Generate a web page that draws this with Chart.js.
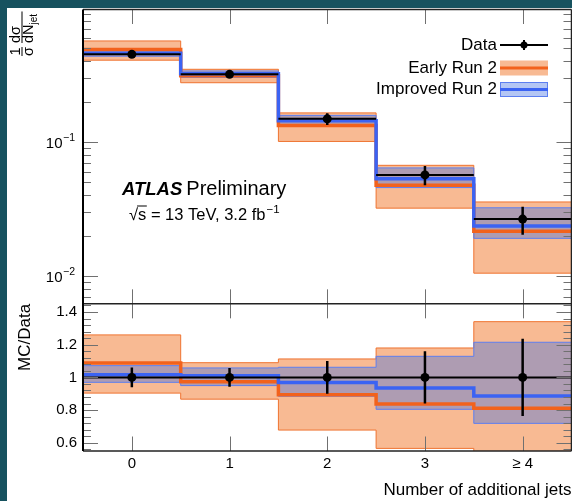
<!DOCTYPE html>
<html>
<head>
<meta charset="utf-8">
<script src="https://cdn.jsdelivr.net/npm/chart.js@4.4.0/dist/chart.umd.min.js"></script>
<style>
  html, body { margin: 0; padding: 0; background: #fff; }
</style>
</head>
<body>
<canvas id="jetChart" width="572" height="501"></canvas>
<script>
// bins of the jet multiplicity
const bins = [0, 1, 2, 3, 4];
const binEdges = [-0.5, 0.5, 1.5, 2.5, 3.5, 4.5];
const xTicks = [0, 1, 2, 3, 4];
const xLabels = ['0', '1', '2', '3', '\u2265 4'];

// upper panel: 1/sigma dsigma/dN
const mainTicks = [0.01, 0.1];
const mainTickExp = ['\u22122', '\u22121'];
const dataVal = [0.451, 0.320, 0.149, 0.0568, 0.0266];
const dataErr = [0.027, 0.018, 0.015, 0.0093, 0.0063];
const earlyVal = [0.491, 0.312, 0.133, 0.0476, 0.0216];
const earlyUp = [0.568, 0.349, 0.165, 0.0670, 0.0357];
const earlyDown = [0.408, 0.277, 0.101, 0.0321, 0.0105];
const improvedVal = [0.459, 0.323, 0.144, 0.0531, 0.0236];
const improvedUp = [0.483, 0.339, 0.158, 0.0641, 0.0323];
const improvedDown = [0.437, 0.304, 0.1315, 0.0457, 0.0191];

// lower panel: MC/Data
const ratioTicks = [0.6, 0.8, 1, 1.2, 1.4];
const ratioTickLabels = ['0.6', '0.8', '1', '1.2', '1.4'];
const ratioData = [1, 1, 1, 1, 1];
const ratioDataErr = [0.06, 0.057, 0.10, 0.16, 0.236];
const ratioEarly = [1.088, 0.974, 0.894, 0.838, 0.812];
const ratioEarlyUp = [1.26, 1.09, 1.113, 1.18, 1.341];
const ratioEarlyDown = [0.904, 0.867, 0.678, 0.566, 0.394];
const ratioImproved = [1.017, 1.01, 0.969, 0.935, 0.887];
const ratioImprovedUp = [1.072, 1.058, 1.062, 1.129, 1.215];
const ratioImprovedDown = [0.97, 0.95, 0.885, 0.805, 0.719];

const orangeFill = '#f8ba93';
const orangeEdge = '#ef7330';
const orangeLine = '#f2621c';
const blueFill = 'rgba(100,125,210,0.5)';
const blueEdge = '#5d7ff0';
const blueLine = '#3b63f3';
const FONT = "'Liberation Sans', Arial, Helvetica, sans-serif";

Chart.defaults.font.family = FONT;
Chart.defaults.color = '#000';

// histogram outline: one point per bin edge, stepped
const stepPts = arr => binEdges.map((e, i) => ({ x: e, y: arr[Math.min(i, arr.length - 1)] }));
// horizontal bin-width bars for data
const hBars = arr => bins.flatMap((b, i) => [
  { x: binEdges[i], y: arr[i] }, { x: binEdges[i + 1], y: arr[i] }, { x: binEdges[i + 1], y: null }]);
// vertical error bars
const vBars = (arr, err) => bins.flatMap((b, i) => [
  { x: b, y: arr[i] - err[i] }, { x: b, y: arr[i] + err[i] }, { x: b, y: null }]);

function panelSets(axis, val, err, eNom, eUp, eDown, iNom, iUp, iDown) {
  const base = { yAxisID: axis, pointRadius: 0, stepped: true, tension: 0 };
  return [
    { ...base, data: stepPts(eUp), borderColor: orangeEdge, borderWidth: 1, backgroundColor: orangeFill, fill: '+1', order: 10 },
    { ...base, data: stepPts(eDown), borderColor: orangeEdge, borderWidth: 1, fill: false, order: 9 },
    { ...base, data: stepPts(iUp), borderColor: blueEdge, borderWidth: 1, backgroundColor: blueFill, fill: '+1', order: 8 },
    { ...base, data: stepPts(iDown), borderColor: blueEdge, borderWidth: 1, fill: false, order: 7 },
    { ...base, data: stepPts(eNom), borderColor: orangeLine, borderWidth: 3.5, fill: false, order: 6 },
    { ...base, data: stepPts(iNom), borderColor: blueLine, borderWidth: 3.5, fill: false, order: 5 },
    { yAxisID: axis, data: hBars(val), borderColor: '#000', borderWidth: 2, pointRadius: 0, fill: false, spanGaps: false, order: 3 },
    { yAxisID: axis, data: vBars(val, err), borderColor: '#000', borderWidth: 2.5, pointRadius: 0, fill: false, spanGaps: false, order: 2 },
    { yAxisID: axis, data: bins.map((b, i) => ({ x: b, y: val[i] })), showLine: false,
      pointRadius: 4.5, pointBackgroundColor: '#000', pointBorderWidth: 0, order: 1 }
  ];
}

// no automatic label padding around the scales
const noPad = s => { s.paddingTop = 0; s.paddingBottom = 0; s.paddingLeft = 0; s.paddingRight = 0; };

const backdrop = {
  id: 'backdrop',
  beforeDraw(chart) {
    const c = chart.ctx;
    c.save();
    c.fillStyle = '#17525f';
    c.fillRect(0, 0, chart.width, chart.height);
    c.fillStyle = '#fff';
    c.fillRect(7, 8, chart.width - 7, chart.height - 8);
    c.restore();
  }
};

// ROOT style frame with inside ticks
const frameTicks = {
  id: 'frameTicks',
  afterDatasetsDraw(chart) {
    const c = chart.ctx;
    const x = chart.scales.x, main = chart.scales.main, ratio = chart.scales.ratio;
    const L = chart.chartArea.left, R = chart.chartArea.right;
    c.save();
    c.strokeStyle = '#707070';
    c.lineWidth = 1;
    const seg = (x0, y0, x1, y1) => { c.beginPath(); c.moveTo(x0, y0); c.lineTo(x1, y1); c.stroke(); };
    [main, ratio].forEach(s => {
      xTicks.forEach(v => {
        const px = Math.round(x.getPixelForValue(v)) + 0.5;
        seg(px, s.top, px, s.top + 14.5);
        seg(px, s.bottom - 14.5, px, s.bottom);
      });
    });
    for (let d = -3; d <= 0; d++) {
      for (let m = 1; m <= 9; m++) {
        const v = m * Math.pow(10, d);
        if (v < main.min || v > main.max) continue;
        const py = Math.round(main.getPixelForValue(v)) + 0.5;
        const len = m === 1 ? 15 : 8;
        seg(L, py, L + len, py);
        seg(R - len, py, R, py);
      }
    }
    for (let k = 14; k <= 36; k++) {
      const py = Math.round(ratio.getPixelForValue(k * 0.04)) + 0.5;
      const len = k % 5 === 0 ? 15 : 8;
      seg(L, py, L + len, py);
      seg(R - len, py, R, py);
    }
    c.strokeStyle = '#222';
    c.lineWidth = 1.5;
    seg(L, main.top, R, main.top);
    seg(R, main.top, R, ratio.bottom);
    seg(L, ratio.top, R, ratio.top);
    seg(L, ratio.bottom, R, ratio.bottom);
    c.strokeStyle = '#000';
    c.lineWidth = 2;
    seg(L, main.top, L, ratio.bottom);
    c.restore();
  }
};

const annotations = {
  id: 'annotations',
  afterDraw(chart) {
    const c = chart.ctx;
    const main = chart.scales.main;
    c.save();
    c.fillStyle = '#000';

    // log axis labels 10^n
    c.textBaseline = 'alphabetic';
    mainTicks.forEach((v, i) => {
      const py = main.getPixelForValue(v);
      c.font = '10.5px ' + FONT;
      c.textAlign = 'right';
      c.fillText(mainTickExp[i], 75, py - 1);
      const ew = c.measureText(mainTickExp[i]).width;
      c.font = '15px ' + FONT;
      c.fillText('10', 75 - ew - 0.5, py + 5.5);
    });

    // legend
    c.textBaseline = 'middle';
    const tx = 497, sx0 = 500, sx1 = 548, sxm = 524;
    c.font = '17px ' + FONT;
    c.textAlign = 'right';
    c.fillText('Data', tx, 45);
    c.fillText('Early Run 2', tx, 68);
    c.fillText('Improved Run 2', tx, 89.5);
    c.strokeStyle = '#000';
    c.lineWidth = 2;
    c.beginPath(); c.moveTo(sx0, 45); c.lineTo(sx1, 45); c.stroke();
    c.beginPath(); c.moveTo(sxm, 40); c.lineTo(sxm, 50); c.stroke();
    c.beginPath(); c.arc(sxm, 45, 3.5, 0, Math.PI * 2); c.fill();
    c.fillStyle = orangeFill;
    c.fillRect(sx0, 60.5, sx1 - sx0, 15);
    c.fillStyle = orangeLine;
    c.fillRect(sx0, 66.5, sx1 - sx0, 3);
    c.fillStyle = '#b4c6f4';
    c.fillRect(sx0, 82, sx1 - sx0, 15);
    c.strokeStyle = blueEdge;
    c.lineWidth = 1;
    c.strokeRect(sx0 + 0.5, 82.5, sx1 - sx0 - 1, 14);
    c.fillStyle = blueLine;
    c.fillRect(sx0, 88, sx1 - sx0, 3);

    // ATLAS label
    c.fillStyle = '#000';
    c.textAlign = 'left';
    c.textBaseline = 'alphabetic';
    c.font = 'italic bold 18.5px ' + FONT;
    c.fillText('ATLAS', 122, 195);
    const aw = c.measureText('ATLAS').width;
    c.font = '20px ' + FONT;
    c.fillText('Preliminary', 122 + aw + 4, 195);
    c.font = '16.5px ' + FONT;
    const rw = c.measureText('\u221A').width;
    const line2 = 's = 13 TeV, 3.2 fb';
    c.fillText('\u221A', 129, 220);
    c.fillText(line2, 129 + rw, 220);
    const sw = c.measureText('s').width;
    c.fillRect(129 + rw - 1, 205.5, sw + 1.5, 1);
    const lw = c.measureText(line2).width;
    c.font = '11.5px ' + FONT;
    c.fillText('\u22121', 129 + rw + lw + 1, 212.5);

    // y title of the upper panel: 1/sigma dsigma/dN_jet
    c.translate(22, 56);
    c.rotate(-Math.PI / 2);
    c.font = '14.5px ' + FONT;
    c.textAlign = 'center';
    c.fillText('1', 4.5, -2.5);
    c.fillText('\u03C3', 4.5, 10.5);
    c.fillRect(0, -0.5, 9, 1);
    c.textAlign = 'left';
    c.fillText('d\u03C3', 13, -2.5);
    c.fillText('dN', 13, 11);
    const dnw = c.measureText('dN').width;
    c.fillRect(13, -0.5, dnw + 13, 1);
    c.font = '10px ' + FONT;
    c.fillText('jet', 13 + dnw, 14.5);
    c.restore();
  }
};

const datasets = [
  ...panelSets('main', dataVal, dataErr, earlyVal, earlyUp, earlyDown, improvedVal, improvedUp, improvedDown),
  ...panelSets('ratio', ratioData, ratioDataErr, ratioEarly, ratioEarlyUp, ratioEarlyDown, ratioImproved, ratioImprovedUp, ratioImprovedDown)
];

new Chart(document.getElementById('jetChart'), {
  type: 'line',
  data: { datasets: datasets },
  options: {
    responsive: false,
    animation: false,
    events: [],
    layout: { autoPadding: false, padding: { top: 9.5, right: 0.5, left: 0, bottom: 0 } },
    plugins: { legend: { display: false }, tooltip: { enabled: false } },
    scales: {
      x: {
        type: 'linear', min: -0.5, max: 4.5, offset: false,
        afterBuildTicks: s => { s.ticks = xTicks.map(v => ({ value: v })); },
        ticks: { callback: v => xLabels[xTicks.indexOf(v)], font: { size: 15 }, padding: 4, autoSkip: false, maxRotation: 0 },
        grid: { display: false, drawTicks: false },
        border: { display: false },
        title: { display: true, text: 'Number of additional jets', align: 'end', font: { size: 17 }, padding: { top: 0, bottom: 0 } },
        afterFit: s => { noPad(s); s.height = 50; }
      },
      ratio: {
        type: 'linear', position: 'left', stack: 'panels', stackWeight: 1, min: 0.55, max: 1.45,
        afterBuildTicks: s => { s.ticks = ratioTicks.map(v => ({ value: v })); },
        ticks: { callback: v => ratioTickLabels[ratioTicks.indexOf(v)], font: { size: 15 }, padding: 6, autoSkip: false },
        grid: { display: false, drawTicks: false },
        border: { display: false },
        title: { display: true, text: 'MC/Data', align: 'end', font: { size: 17 }, padding: { top: 15, bottom: 0 } },
        afterFit: s => { noPad(s); s.width = 83; }
      },
      main: {
        type: 'logarithmic', position: 'left', stack: 'panels', stackWeight: 2, min: 0.0062, max: 0.975,
        afterBuildTicks: s => { s.ticks = mainTicks.map(v => ({ value: v })); },
        ticks: { display: false },
        grid: { display: false, drawTicks: false },
        border: { display: false },
        afterFit: s => { noPad(s); s.width = 83; }
      }
    }
  },
  plugins: [backdrop, frameTicks, annotations]
});
</script>
</body>
</html>
